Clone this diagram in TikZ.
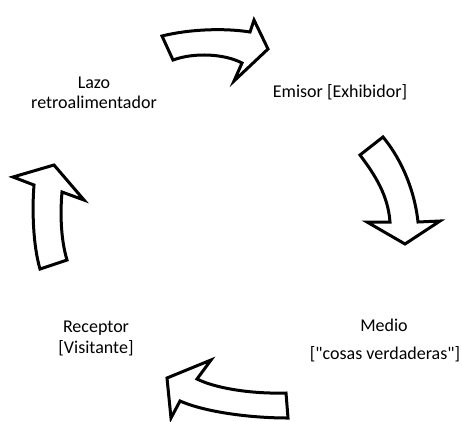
\documentclass[tikz,border=0pt]{standalone}
\usepackage{fontspec}
% plain family without TeX ligature mapping, so " stays a straight quote
\newfontfamily\labelfont{Carlito}
\begin{document}
\begin{tikzpicture}[x=1pt,y=-1pt,
  cyclearrow/.style={draw=black,fill=white,line width=3pt,line join=miter},
  lbl/.style={anchor=base,inner sep=0pt,font=\labelfont\fontsize{18}{21}\selectfont}]
\useasboundingbox (0,0) rectangle (462,421);

% labels of the four stages
\node[lbl] (lazoA) at (94,88) {Lazo};
\node[lbl] (lazoB) at (94,108) {retroalimentador};
\node[lbl] (emisor) at (340,97) {Emisor [Exhibidor]};
\node[lbl] (medioA) at (384,331) {Medio};
\node[lbl] (medioB) at (385,359) {["cosas verdaderas"]};
\node[lbl] (recA) at (96,332) {Receptor};
\node[lbl] (recB) at (96,353) {[Visitante]};

% top arrow: feedback -> sender
\draw[cyclearrow] (162,36) .. controls (190,29) and (225,28) .. (250,32)
  -- (254,20) -- (268,49) -- (234,81) -- (242,63)
  .. controls (225,54) and (195,52) .. (173,60) -- cycle;

% right arrow: sender -> medium
\draw[cyclearrow] (360,155) -- (383,137)
  .. controls (398,155) and (414,185) .. (418,222)
  -- (440,221) -- (405,244) -- (367,222) -- (390,222)
  .. controls (388,195) and (375,175) .. cycle;

% bottom arrow: medium -> receiver
\draw[cyclearrow] (286,393) -- (288,418)
  .. controls (250,418) and (205,412) .. (180,401)
  -- (171,418) -- (167,378) -- (211,360) -- (197,379)
  .. controls (215,388) and (250,394) .. cycle;

% left arrow: receiver -> feedback
\draw[cyclearrow] (40,269) -- (67,260)
  .. controls (61,240) and (60,215) .. (62,192)
  -- (84,200) -- (54,165) -- (13,177) -- (34,185)
  .. controls (32,210) and (33,245) .. cycle;
\end{tikzpicture}
\end{document}
